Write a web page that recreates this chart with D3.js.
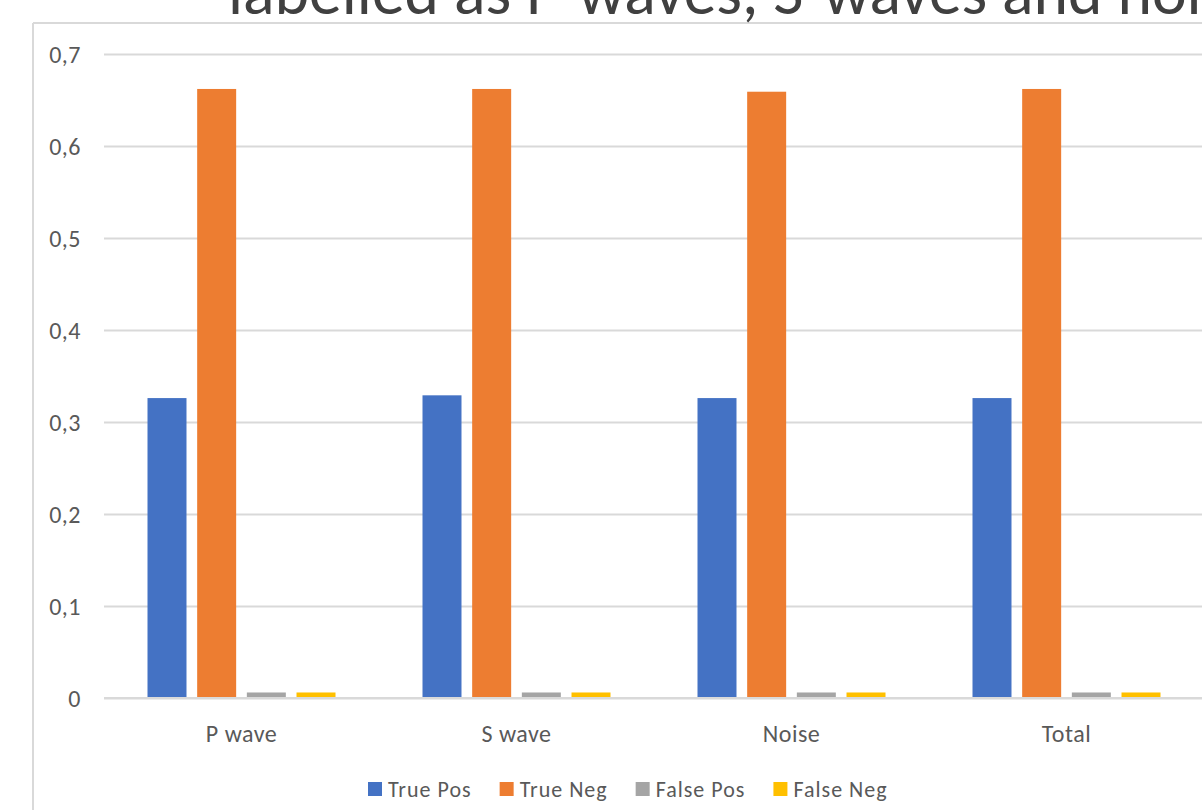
<!DOCTYPE html>
<html>
<head>
<meta charset="utf-8">
<script src="https://cdn.jsdelivr.net/npm/d3@7"></script>
<style>
  html, body { margin: 0; padding: 0; background: #fff; overflow: hidden; }
  svg, svg text { font-family: Carlito, Lato, "Open Sans", sans-serif; }
  svg { display: block; }
</style>
</head>
<body>
<svg id="chart" width="1202" height="810"></svg>
<script>
// Proportions of samples per class and outcome
const categories = ["P wave", "S wave", "Noise", "Total"];
const seriesNames = ["True Pos", "True Neg", "False Pos", "False Neg"];
const truePos  = [0.326, 0.329, 0.326, 0.326];
const trueNeg  = [0.662, 0.662, 0.659, 0.662];
const falsePos = [0.006, 0.006, 0.006, 0.006];
const falseNeg = [0.006, 0.006, 0.006, 0.006];
const yTicks = [0, 0.1, 0.2, 0.3, 0.4, 0.5, 0.6, 0.7];
const titleText = "labelled as P-waves, S-waves and noise";

const seriesValues = [truePos, trueNeg, falsePos, falseNeg];
const colors = ["#4472C4", "#ED7D31", "#A5A5A5", "#FFC000"];

const svg = d3.select("#chart");
const textColor = "#595959";
const gridColor = "#d9d9d9";
const fontStack = 'Carlito, Lato, "Open Sans", sans-serif';

// chart frame
svg.append("line").attr("x1", 33).attr("x2", 33).attr("y1", 23).attr("y2", 810)
  .attr("stroke", gridColor).attr("stroke-width", 2);
svg.append("line").attr("x1", 33).attr("x2", 1202).attr("y1", 23).attr("y2", 23)
  .attr("stroke", gridColor).attr("stroke-width", 2);

// title (sized to its width, partly above the frame)
const title = svg.append("text")
  .attr("x", 228).attr("y", 14)
  .attr("fill", "#404040")
  .style("font-family", fontStack)
  .style("font-weight", 300)
  .style("font-size", "100px")
  .text(titleText);
const prefixLen = title.node().getSubStringLength(0, titleText.length - 2);
title.style("font-size", (100 * 974 / prefixLen) + "px");

// scales
const x0 = d3.scaleBand().domain(categories).range([104, 1204]).padding(0);
const x1 = d3.scaleBand().domain(seriesNames).range([43.5, 231.5]).paddingInner(0.215).paddingOuter(0);
const y = d3.scaleLinear().domain([0, 0.7]).range([698, 54]);

// gridlines and value labels
const yAxis = d3.axisLeft(y).tickValues(yTicks)
  .tickSize(-1100)
  .tickPadding(23)
  .tickFormat(d => d3.format(".1f")(d).replace(".", ",").replace(/^0,0$/, "0"));
const gAxis = svg.append("g").attr("transform", "translate(104,0)").call(yAxis)
  .attr("font-family", null).attr("font-size", null);
gAxis.select(".domain").remove();
gAxis.selectAll(".tick line").attr("stroke", gridColor).attr("stroke-width", 2);
gAxis.selectAll(".tick text")
  .attr("fill", textColor)
  .style("font-family", fontStack)
  .style("font-size", "24px")
  .style("letter-spacing", "0.5px")
  .attr("dy", "0.36em");

// bars
const groups = svg.append("g").selectAll("g")
  .data(categories)
  .join("g")
  .attr("transform", d => `translate(${x0(d)},0)`);

groups.selectAll("rect")
  .data((d, i) => seriesNames.map((s, j) => ({ s, v: seriesValues[j][i], c: colors[j] })))
  .join("rect")
  .attr("x", d => x1(d.s))
  .attr("width", x1.bandwidth())
  .attr("y", d => y(d.v))
  .attr("height", d => y(0) - y(d.v))
  .attr("fill", d => d.c);

// baseline over the bars
svg.append("line").attr("x1", 104).attr("x2", 1204).attr("y1", y(0)).attr("y2", y(0))
  .attr("stroke", gridColor).attr("stroke-width", 2);

// category labels
const xAxis = d3.axisBottom(x0).tickSize(0).tickPadding(27);
const gx = svg.append("g").attr("transform", `translate(0,${y(0)})`).call(xAxis)
  .attr("font-family", null).attr("font-size", null);
gx.select(".domain").remove();
gx.selectAll(".tick text")
  .attr("fill", textColor)
  .style("font-family", fontStack)
  .style("font-size", "24px")
  .style("letter-spacing", "0.5px");

// legend
const legend = svg.append("g").attr("transform", "translate(0,789)");
const items = legend.selectAll("g").data(seriesNames).join("g");
items.append("rect").attr("width", 14).attr("height", 14).attr("y", -7)
  .attr("fill", (d, i) => colors[i]);
items.append("text").attr("x", 20).attr("dy", "0.36em")
  .attr("fill", textColor)
  .style("font-family", fontStack)
  .style("font-size", "22px")
  .style("letter-spacing", "1px")
  .text(d => d);
let xpos = 368;
items.each(function () {
  const w = d3.select(this).select("text").node().getComputedTextLength();
  d3.select(this).attr("transform", `translate(${xpos},0)`);
  xpos += 20 + w + 28;
});
</script>
</body>
</html>
